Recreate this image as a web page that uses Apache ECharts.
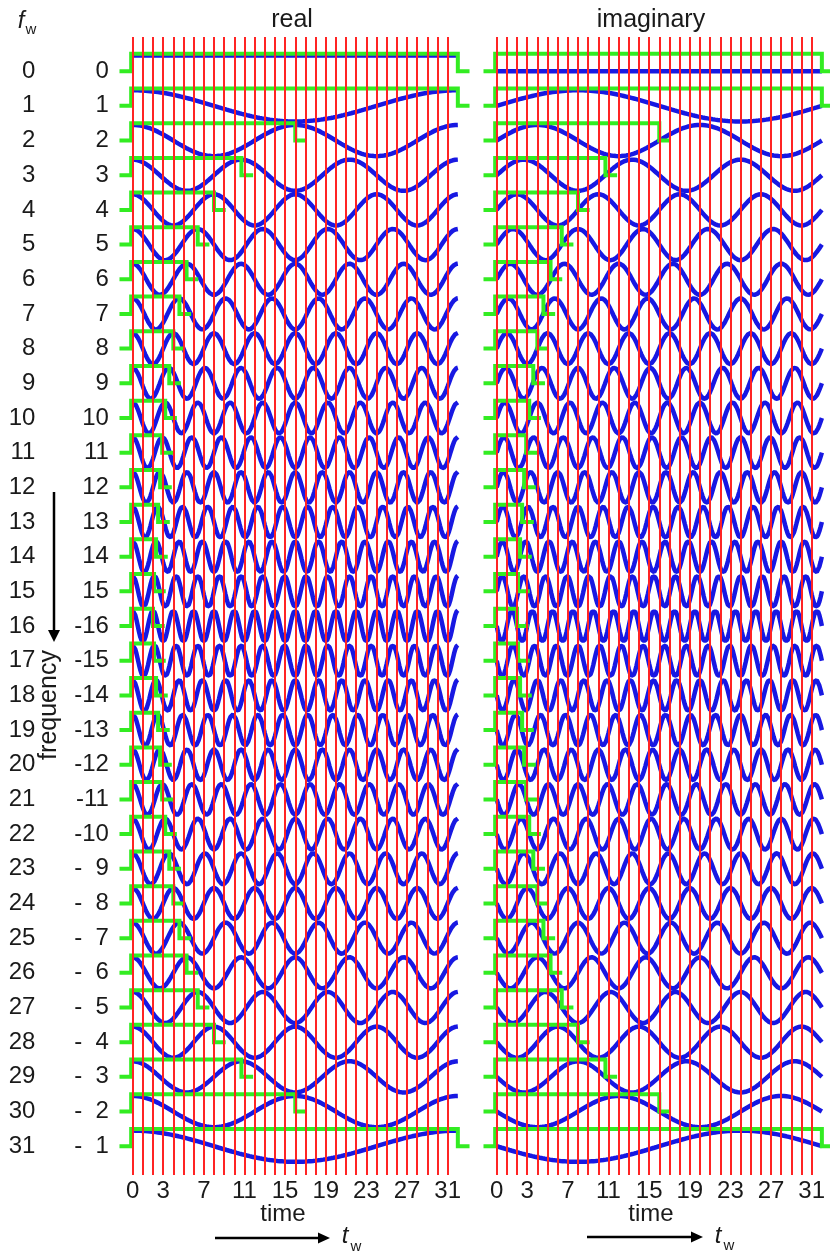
<!DOCTYPE html>
<html>
<head>
<meta charset="utf-8">
<title>real / imaginary basis</title>
<script src="https://cdn.jsdelivr.net/npm/echarts@6/dist/echarts.min.js"></script>
<style>
  html, body { margin: 0; padding: 0; background: #fff; }
  #chart { width: 830px; height: 1253px; }
</style>
</head>
<body>
<div id="chart"></div>
<script>
// row labels, left column
var fwLabels = ['0', '1', '2', '3', '4', '5', '6', '7', '8', '9', '10', '11', '12', '13', '14', '15',
  '16', '17', '18', '19', '20', '21', '22', '23', '24', '25', '26', '27', '28', '29', '30', '31'];
// signed frequency of each row
var signedFreq = [0, 1, 2, 3, 4, 5, 6, 7, 8, 9, 10, 11, 12, 13, 14, 15,
  -16, -15, -14, -13, -12, -11, -10, -9, -8, -7, -6, -5, -4, -3, -2, -1];
var signedLabels = ['0', '1', '2', '3', '4', '5', '6', '7', '8', '9', '10', '11', '12', '13', '14', '15',
  '-16', '-15', '-14', '-13', '-12', '-11', '-10', '-\u20079', '-\u20078', '-\u20077', '-\u20076',
  '-\u20075', '-\u20074', '-\u20073', '-\u20072', '-\u20071'];
// end of the green window on each row (time units)
var pulseEnd = [32, 32, 16, 10.7, 8, 6.4, 5.3, 4.6, 4, 3.6, 3.2, 2.9, 2.7, 2.5, 2.3, 2.1,
  2, 2.1, 2.3, 2.5, 2.7, 2.9, 3.2, 3.6, 4, 4.6, 5.3, 6.4, 8, 10.7, 16, 32];
// sample instants (red lines) and labelled ticks
var sampleTimes = [0, 1, 2, 3, 4, 5, 6, 7, 8, 9, 10, 11, 12, 13, 14, 15,
  16, 17, 18, 19, 20, 21, 22, 23, 24, 25, 26, 27, 28, 29, 30, 31];
var timeTicks = [0, 3, 7, 11, 15, 19, 23, 27, 31];
var N = 32;

var FONT = 'Liberation Sans, Arial, sans-serif';
var TXT = '#1a1a1a';
var BLUE = '#1818e2';
var GREEN = '#33ec22';
var RED = '#ff2424';
var AMP = 0.45;     // blue amplitude, row units
var HIGH = 0.5;     // green window height

var chart = echarts.init(document.getElementById('chart'));

var rowValues = fwLabels.map(function (s, k) { return -k; });

function xAxisFor(grid, min, max) {
  return {
    gridIndex: grid, type: 'value', min: min, max: max,
    axisLine: { show: false }, axisTick: { show: false }, splitLine: { show: false },
    axisLabel: {
      customValues: timeTicks, margin: 4,
      fontFamily: FONT, fontSize: 24, color: TXT
    }
  };
}

function yAxisFor(grid, labels, margin, show) {
  return {
    gridIndex: grid, type: 'value', position: 'left', offset: 0,
    min: -31.83, max: 0.986,
    axisLine: { show: false }, axisTick: { show: false }, splitLine: { show: false },
    axisLabel: {
      show: show, customValues: rowValues, margin: margin, align: 'right',
      padding: [0, 0, 9, 0],
      fontFamily: FONT, fontSize: 24, color: TXT,
      formatter: function (v) { return labels ? labels[Math.round(-v)] : ''; }
    }
  };
}

var series = [];

[0, 1].forEach(function (panel) {
  var xi = panel, yi = panel === 0 ? 0 : 2;

  // red sample lines
  series.push({
    type: 'line', xAxisIndex: xi, yAxisIndex: yi, data: [], z: 1, silent: true,
    markLine: {
      silent: true, symbol: 'none', animation: false,
      label: { show: false },
      lineStyle: { color: RED, width: 2, type: 'solid' },
      data: sampleTimes.map(function (t) { return { xAxis: t }; })
    }
  });

  signedFreq.forEach(function (f, k) {
    var pts = [];
    for (var i = 0; i <= 256; i++) {
      var t = i / 8;
      var ph = 2 * Math.PI * f * t / N;
      pts.push([t, -k + AMP * (panel === 0 ? Math.cos(ph) : Math.sin(ph))]);
    }
    series.push({
      type: 'line', xAxisIndex: xi, yAxisIndex: yi, data: pts, z: 2,
      showSymbol: false, silent: true, clip: true,
      lineStyle: { color: BLUE, width: 4.5 }
    });

    var e = pulseEnd[k];
    series.push({
      type: 'line', xAxisIndex: xi, yAxisIndex: yi, z: 3,
      showSymbol: false, silent: true, clip: true,
      data: [[-1.3, -k], [-0.15, -k], [-0.15, -k + HIGH], [e, -k + HIGH], [e, -k], [e + 1.15, -k]],
      lineStyle: { color: GREEN, width: 4, join: 'miter' }
    });
  });
});

function txt(x, y, s, size, extra) {
  var st = { text: s, fontFamily: FONT, fontSize: size, fill: TXT, align: 'center', verticalAlign: 'middle' };
  for (var key in extra) st[key] = extra[key];
  return { type: 'text', x: x, y: y, style: st, silent: true };
}

function arrowRight(x1, x2, y) {
  return [
    { type: 'line', shape: { x1: x1, y1: y, x2: x2 - 10, y2: y }, style: { stroke: '#000', lineWidth: 2.5 }, silent: true },
    { type: 'polygon', shape: { points: [[x2 - 12, y - 5.5], [x2 - 12, y + 5.5], [x2, y]] }, style: { fill: '#000' }, silent: true }
  ];
}

var graphics = [
  txt(21, 21, 'f', 24, { fontStyle: 'italic' }),
  txt(31, 29.5, 'w', 15),
  txt(292, 20, 'real', 25),
  txt(651, 20, 'imaginary', 25),
  txt(283, 1214, 'time', 24),
  txt(651, 1214, 'time', 24),
  txt(345, 1236.5, 't', 24, { fontStyle: 'italic' }),
  txt(356, 1246.5, 'w', 15),
  txt(718, 1236, 't', 24, { fontStyle: 'italic' }),
  txt(729, 1246, 'w', 15),
  { type: 'text', x: 49, y: 705, rotation: Math.PI / 2, silent: true,
    style: { text: 'frequency', fontFamily: FONT, fontSize: 25, fill: TXT, align: 'center', verticalAlign: 'middle' } },
  { type: 'line', shape: { x1: 54, y1: 492, x2: 54, y2: 632 }, style: { stroke: '#000', lineWidth: 2.5 }, silent: true },
  { type: 'polygon', shape: { points: [[48, 630], [60, 630], [54, 642]] }, style: { fill: '#000' }, silent: true }
].concat(arrowRight(215, 330, 1238)).concat(arrowRight(587, 703, 1237));

chart.setOption({
  animation: false,
  backgroundColor: '#fff',
  grid: [
    { left: 117.46, top: 37, width: 360.7, height: 1138 },
    { left: 481.46, top: 37, width: 348.54, height: 1138 }
  ],
  xAxis: [xAxisFor(0, -1.5, 34), xAxisFor(1, -1.5, 32.8)],
  yAxis: [
    yAxisFor(0, signedLabels, 8.5, true),
    yAxisFor(0, fwLabels, 82, true),
    yAxisFor(1, null, 8, false)
  ],
  graphic: graphics,
  series: series
});
</script>
</body>
</html>
